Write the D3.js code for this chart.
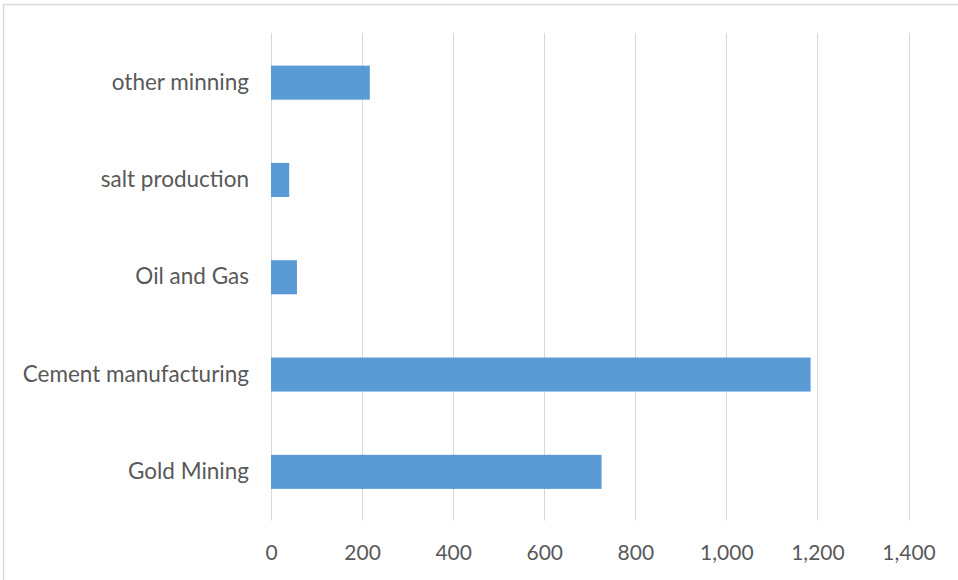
<!DOCTYPE html>
<html>
<head>
<meta charset="utf-8">
<script src="https://cdn.jsdelivr.net/npm/d3@7/dist/d3.min.js"></script>
<style>
  html, body { margin: 0; padding: 0; background: #fff; }
  svg { display: block; }
  text { font-family: Lato, "Open Sans", sans-serif; fill: #595959; }
</style>
</head>
<body>
<svg id="chart" width="958" height="580"></svg>
<script>
// Categories listed top to bottom, with their values
const categories = ["other minning", "salt production", "Oil and Gas", "Cement manufacturing", "Gold Mining"];
const values = [217, 40, 57, 1185, 726];
const xTicks = [0, 200, 400, 600, 800, 1000, 1200, 1400];

const svg = d3.select("#chart");
const W = 958, H = 580;
const margin = { left: 271, right: 49.5, top: 34, bottom: 59.5 };

// Chart frame
svg.append("rect")
  .attr("x", 3.5).attr("y", 4.5)
  .attr("width", W + 10).attr("height", H + 10)
  .attr("fill", "#fff")
  .attr("stroke", "#d9d9d9").attr("stroke-width", 1.5);

const x = d3.scaleLinear()
  .domain([0, 1400])
  .range([margin.left, W - margin.right]);

const y = d3.scaleBand()
  .domain(categories)
  .range([margin.top, H - margin.bottom])
  .paddingInner(0.65)
  .paddingOuter(0.325);

// Vertical gridlines
svg.append("g")
  .selectAll("line")
  .data(xTicks)
  .join("line")
  .attr("x1", d => Math.round(x(d)) + 0.5)
  .attr("x2", d => Math.round(x(d)) + 0.5)
  .attr("y1", margin.top - 1)
  .attr("y2", H - margin.bottom)
  .attr("stroke", "#d9d9d9")
  .attr("stroke-width", 1);

// Bars
svg.append("g")
  .selectAll("rect")
  .data(categories)
  .join("rect")
  .attr("x", x(0))
  .attr("y", d => y(d))
  .attr("width", (d, i) => x(values[i]) - x(0))
  .attr("height", y.bandwidth())
  .attr("fill", "#5b9bd5");

// X axis labels
const fmt = d3.format(",");
const xAxis = d3.axisBottom(x)
  .tickValues(xTicks)
  .tickFormat(fmt)
  .tickSize(0)
  .tickPadding(0);
const gx = svg.append("g")
  .attr("transform", `translate(0,${H - margin.bottom})`)
  .call(xAxis);
gx.select(".domain").remove();
gx.selectAll("text")
  .attr("dy", null)
  .attr("y", 39)
  .style("font-size", "21px")
  .style("font-family", "Lato, 'Open Sans', sans-serif")
  .attr("fill", "#595959");

// Y axis category labels
const yAxis = d3.axisLeft(y).tickSize(0).tickPadding(22);
const gy = svg.append("g")
  .attr("transform", `translate(${margin.left},0)`)
  .call(yAxis);
gy.select(".domain").remove();
gy.selectAll("text")
  .style("font-size", "22.5px")
  .style("font-family", "Lato, 'Open Sans', sans-serif")
  .attr("fill", "#595959");
</script>
</body>
</html>
